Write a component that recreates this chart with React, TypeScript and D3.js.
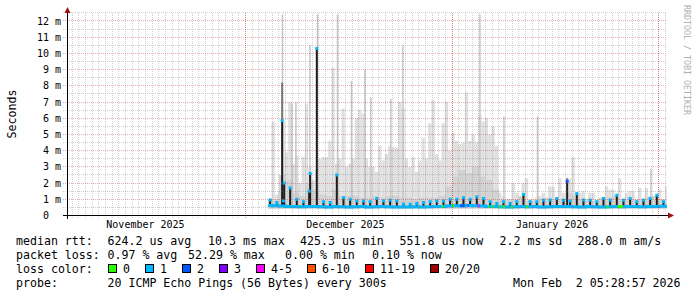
import React from 'react';
import * as d3 from 'd3';

// ---------- time frame ----------
const DAY = 86400000;
const END_TIME = Date.UTC(2026, 1, 2, 5, 28, 57);
const START_TIME = END_TIME - 90 * DAY;
const REF_TIME = Date.UTC(2025, 11, 1); // day offsets below are days after Dec 1 2025

// ---------- axis labels ----------
const yTicks = [0, 1, 2, 3, 4, 5, 6, 7, 8, 9, 10, 11, 12];
const yTickLabels = ['0', '1 m', '2 m', '3 m', '4 m', '5 m', '6 m', '7 m', '8 m', '9 m', '10 m', '11 m', '12 m'];
const monthNames = ['November 2025', 'December 2025', 'January 2026'];
const monthLabelDates = [Date.UTC(2025, 10, 16), Date.UTC(2025, 11, 16), Date.UTC(2026, 0, 16)];
const monthStarts = [Date.UTC(2025, 11, 1), Date.UTC(2026, 0, 1), Date.UTC(2026, 1, 1)];

// ---------- smoke (ms) : half-day samples from day 3.4 ----------
const smokeStartDay = 3.4;
const smokeStepDays = 0.5;
const smokeFloor = 0.42;
const smokeMax = [
  1.0, 5.8, 1.3, 1.5, 5.8, 3.9, 7.0, 3.2, 3.7, 2.0,
  3.6, 6.9, 3.0, 2.2, 2.8, 3.5, 3.6, 3.6, 4.6, 9.1,
  3.2, 3.5, 6.6, 3.0, 3.2, 3.5, 6.0, 6.5, 6.3, 3.5,
  3.0, 3.0, 2.7, 4.3, 3.4, 3.8, 4.3, 4.2, 4.2, 7.0,
  6.6, 3.5, 3.0, 3.6, 2.7, 3.4, 4.8, 3.5, 5.7, 7.1,
  3.8, 3.4, 5.7, 7.0, 4.0, 5.1, 4.6, 4.4, 4.5, 7.6,
  4.6, 5.0, 4.5, 6.2, 5.8, 6.0, 5.0, 5.5, 4.3, 1.4,
  1.2, 1.0, 1.0, 2.0, 1.4, 1.2, 2.0, 2.3, 1.0, 1.0,
  1.1, 1.2, 1.4, 1.0, 1.8, 1.8, 1.0, 2.3, 1.4, 1.0,
  2.3, 3.6, 1.4, 1.4, 1.5, 1.0, 1.4, 1.4, 1.0, 1.0,
  1.0, 1.8, 1.6, 1.6, 1.0, 2.3, 1.0, 1.4, 1.5, 1.5,
  1.0, 1.7, 1.0, 1.7, 1.2, 1.2, 1.2, 1.6, 1.0, 1.8,
];

// ---------- per-day series (day 3 .. day 62) ----------
const dailyStartDay = 3;
const smokeMid = [
  1.0, 1.0, 2.5, 2.2, 1.4, 1.2, 2.0, 1.6, 1.3, 1.2,
  1.6, 1.2, 1.2, 1.2, 1.1, 1.1, 1.2, 1.1, 1.2, 1.2,
  1.1, 1.1, 1.0, 1.1, 1.1, 1.1, 1.2, 1.8, 2.4, 2.8,
  2.6, 3.0, 2.4, 2.2, 1.6, 1.0, 1.0, 1.0, 1.2, 0.9,
  0.9, 1.0, 1.1, 1.0, 1.0, 1.4, 1.2, 1.0, 1.0, 0.9,
  1.1, 1.1, 1.2, 1.0, 1.1, 1.0, 1.0, 1.1, 1.2, 1.0,
];
const medianBase = [
  0.62, 0.60, 0.58, 0.55, 0.55, 0.54, 0.55, 0.56, 0.54, 0.53,
  0.55, 0.54, 0.53, 0.54, 0.55, 0.53, 0.54, 0.55, 0.54, 0.53,
  0.52, 0.53, 0.54, 0.53, 0.54, 0.55, 0.56, 0.58, 0.60, 0.60,
  0.62, 0.60, 0.58, 0.56, 0.55, 0.54, 0.53, 0.54, 0.55, 0.54,
  0.55, 0.53, 0.54, 0.55, 0.56, 0.55, 0.54, 0.53, 0.55, 0.54,
  0.53, 0.54, 0.55, 0.54, 0.56, 0.55, 0.54, 0.55, 0.56, 0.57,
];
const peakHourOffset = 0.7; // daily peak time of day (fraction)
const dailyPeak = [
  0.96, 0.80, 0.90, 1.70, 1.00, 0.85, 2.60, 10.3, 0.85, 0.80,
  2.50, 1.10, 1.00, 0.90, 0.90, 0.85, 1.05, 0.90, 0.95, 0.90,
  0.70, 0.70, 0.75, 0.80, 0.85, 0.90, 0.90, 1.00, 1.00, 1.10,
  1.00, 1.15, 1.05, 0.85, 0.75, 0.85, 0.75, 0.85, 1.30, 0.85,
  0.85, 0.95, 0.95, 1.05, 0.95, 0.90, 1.35, 0.95, 0.95, 0.85,
  1.05, 0.95, 1.25, 0.95, 1.05, 0.85, 0.95, 1.05, 1.25, 0.85,
];

// thin tall smoke strands: [day, ms]
const thinSpikes: [number, number][] = [
  [5.55, 12.4], [6.95, 6.9], [7.57, 7.0], [9.67, 10.5], [10.8, 12.4],
  [13.8, 12.4], [15.9, 8.3], [17.92, 9.0], [18.8, 7.3], [21.8, 7.2],
  [23.62, 10.5], [35.17, 12.4], [38.77, 6.1], [43.8, 6.1], [60.82, 2.9],
];
// other median excursions: [day, median ms, dark haze top ms, loss bucket]
const extraPeaks: [number, number, number, number][] = [
  [5.5, 5.85, 8.2, 1],
  [5.8, 2.0, 2.0, 1],
  [9.55, 1.5, 1.5, 1],
  [48.25, 2.1, 2.3, 2],
];
// loss colour changes of the median: [startDay, endDay, bucket]
const lossSegments: [number, number, number][] = [
  [29.45, 29.65, 0], [31.0, 31.25, 0], [32.2, 32.9, 2], [33.3, 33.5, 2],
  [34.85, 35.1, 4], [36.4, 36.6, 0], [37.0, 37.2, 0], [38.0, 38.2, 0],
  [38.6, 38.9, 0], [39.85, 40.1, 0], [42.1, 42.35, 0], [54.2, 54.45, 0],
  [55.8, 56.6, 0],
];

// ---------- legend ----------
const lossColors = ['#26ff00', '#00b8ff', '#0059ff', '#7e00ff', '#ff00ff', '#ff5500', '#ff0000', '#a10000'];
const lossLabels = ['0', '1', '2', '3', '4-5', '6-10', '11-19', '20/20'];
const rttItems = ['624.2 us avg', '10.3 ms max', '425.3 us min', '551.8 us now', '2.2 ms sd', '288.0 m am/s'];
const lossItems = ['0.97 % avg', '52.29 % max', '0.00 % min', '0.10 % now'];
const probeText = '20 ICMP Echo Pings (56 Bytes) every 300s';
const dateText = 'Mon Feb  2 05:28:57 2026';

// layout
const W = 697;
const H = 297;
const PX0 = 67;
const PX1 = 667;
const PY0 = 215.5;
const PX_PER_MS = 16.21;
const MONO = "'DejaVu Sans Mono', monospace";
const rttX = [107.5, 208, 300, 399.5, 499.5, 577.5];
const lossX = [107.5, 188, 285, 372];
const swatchX = [108.5, 145.5, 182.5, 219.5, 256.5, 307.5, 365.5, 430.5];

export default function App() {
  const x = d3.scaleUtc().domain([START_TIME, END_TIME]).range([PX0, PX1]);
  const y = d3.scaleLinear().domain([0, 12.5]).range([PY0, PY0 - 12.5 * PX_PER_MS]);
  const xd = (d: number) => x(REF_TIME + d * DAY);
  const crisp = (v: number) => Math.round(v - 0.5) + 0.5;
  const top = y(12.5);

  const minorH = d3.range(0.5, 12.6, 1);
  const majorH = yTicks.filter((v) => v > 0);
  const minorV = d3.utcDay.range(new Date(START_TIME), new Date(END_TIME));
  const endDay = (END_TIME - REF_TIME) / DAY;

  const medPts: [number, number][] = medianBase.map((v, i) => [Math.max(smokeStartDay, dailyStartDay + i), v]);
  medPts.push([endDay, medianBase[medianBase.length - 1]]);
  const medLine = d3
    .line<[number, number]>()
    .x((p) => xd(p[0]))
    .y((p) => y(p[1]))
    .curve(d3.curveStepAfter);

  const baseAt = (d: number) => medianBase[Math.min(medianBase.length - 1, Math.max(0, Math.floor(d) - dailyStartDay))];

  return (
    <svg width={W} height={H} style={{ position: 'absolute', left: 0, top: 0, display: 'block', background: '#fff' }}>
      <rect x={0} y={0} width={W} height={H} fill="#ffffff" />
      <defs>
        <clipPath id="plotclip">
          <rect x={PX0} y={top} width={PX1 - PX0} height={PY0 - top} />
        </clipPath>
      </defs>

      <g clipPath="url(#plotclip)">
        {smokeMax.map((v, i) => {
          const d0 = smokeStartDay + i * smokeStepDays;
          const x0 = xd(d0);
          const x1 = Math.min(xd(d0 + smokeStepDays), PX1);
          return <rect key={'s' + i} x={x0} y={y(v)} width={x1 - x0} height={y(smokeFloor) - y(v)} fill="#e0e0e0" />;
        })}
        {smokeMid.map((v, i) => {
          const d0 = Math.max(smokeStartDay, dailyStartDay + i);
          const x0 = xd(d0);
          const x1 = Math.min(xd(dailyStartDay + i + 1), PX1);
          return <rect key={'m' + i} x={x0} y={y(v)} width={x1 - x0} height={y(smokeFloor) - y(v)} fill="#d3d3d3" />;
        })}
        {thinSpikes.map(([d, v], i) => (
          <rect key={'t' + i} x={xd(d) - 0.75} y={y(v)} width={1.5} height={y(smokeFloor) - y(v)} fill="#c6c6c6" />
        ))}
        {extraPeaks.map(([d, m, h], i) => (
          <rect key={'h' + i} x={xd(d) - 1} y={y(h)} width={2} height={y(m) - y(h)} fill="#7a7a7a" />
        ))}
        {dailyPeak.map((v, i) => {
          const d = dailyStartDay + i + peakHourOffset;
          const b = medianBase[i];
          return <rect key={'p' + i} x={xd(d) - 1} y={y(v)} width={2} height={y(b) - y(v)} fill="#1e1e1e" />;
        })}
        {extraPeaks.map(([d, m], i) => (
          <rect key={'e' + i} x={xd(d) - 1} y={y(m)} width={2} height={y(baseAt(d)) - y(m)} fill="#1e1e1e" />
        ))}

        <path d={medLine(medPts) || ''} fill="none" stroke={lossColors[1]} strokeWidth={3} />
        {lossSegments.map(([a, b, k], i) => (
          <line key={'l' + i} x1={xd(a)} x2={xd(b)} y1={y(baseAt(a))} y2={y(baseAt(a))} stroke={lossColors[k]} strokeWidth={3} />
        ))}
        {dailyPeak.map((v, i) => {
          const d = dailyStartDay + i + peakHourOffset;
          return <rect key={'c' + i} x={xd(d) - 1.5} y={y(v) - 1.5} width={3} height={3} fill={lossColors[1]} />;
        })}
        {extraPeaks.map(([d, m, , k], i) => (
          <rect key={'ce' + i} x={xd(d) - 1.5} y={y(m) - 1.5} width={3} height={3} fill={lossColors[k]} />
        ))}
      </g>

      <g strokeDasharray="1,1" strokeWidth={1} shapeRendering="crispEdges">
        {minorH.map((v) => (
          <line key={'mh' + v} x1={63} x2={PX1} y1={crisp(y(v))} y2={crisp(y(v))} stroke="rgba(120,120,120,0.35)" />
        ))}
        {minorV.map((t) => (
          <line key={'mv' + +t} x1={crisp(x(t))} x2={crisp(x(t))} y1={top} y2={PY0 + 2} stroke="rgba(120,120,120,0.35)" />
        ))}
        {majorH.map((v) => (
          <line key={'Mh' + v} x1={63} x2={PX1} y1={crisp(y(v))} y2={crisp(y(v))} stroke="rgba(200,40,40,0.38)" />
        ))}
        {monthStarts.map((t) => (
          <line key={'Mv' + t} x1={crisp(x(t))} x2={crisp(x(t))} y1={top} y2={PY0 + 3} stroke="rgba(200,40,40,0.45)" />
        ))}
      </g>

      <g shapeRendering="crispEdges">
        <line x1={63} x2={669} y1={PY0} y2={PY0} stroke="#000" />
        <line x1={PX0 + 0.5} x2={PX0 + 0.5} y1={12} y2={219} stroke="#000" />
      </g>
      <path d={`M${PX0 - 2.5},13 L${PX0 + 3.5},13 L${PX0 + 0.5},7 Z`} fill="#a01010" />
      <path d={`M668,${PY0 - 3} L668,${PY0 + 3} L674,${PY0} Z`} fill="#a01010" />

      <g fontFamily={MONO} fontSize={10} fill="#000">
        {yTicks.map((v, i) => {
          const lab = yTickLabels[i];
          const w = lab === '0' ? 3 : lab.length;
          return (
            <text key={'yl' + v} x={61 - w * 6.02} y={y(v) + 3.6}>
              {lab}
            </text>
          );
        })}
        {monthNames.map((m, i) => (
          <text key={'mn' + i} x={x(monthLabelDates[i])} y={228.3} textAnchor="middle">
            {m}
          </text>
        ))}
      </g>

      <text transform="translate(16,114) rotate(-90)" textAnchor="middle" fontFamily={MONO} fontSize={11.6} fill="#000">
        Seconds
      </text>

      <text transform="translate(684,5) rotate(90)" fontFamily={MONO} fontSize={8.3} fill="#b0b0b0">
        RRDTOOL / TOBI OETIKER
      </text>

      <g fontFamily={MONO} fontSize={11.6} fill="#000" style={{ whiteSpace: 'pre' }}>
        <text x={16} y={245}>median rtt:</text>
        {rttItems.map((s, i) => (
          <text key={'r' + i} x={rttX[i]} y={245}>{s}</text>
        ))}
        <text x={16} y={259}>packet loss:</text>
        {lossItems.map((s, i) => (
          <text key={'pl' + i} x={lossX[i]} y={259}>{s}</text>
        ))}
        <text x={16} y={273}>loss color:</text>
        {lossLabels.map((s, i) => (
          <g key={'lc' + i}>
            <rect x={swatchX[i]} y={264.5} width={8} height={8} fill={lossColors[i]} stroke="#000" strokeWidth={1} />
            <text x={swatchX[i] + 14.5} y={273}>{s}</text>
          </g>
        ))}
        <text x={16} y={287}>probe:</text>
        <text x={107.5} y={287}>{probeText}</text>
        <text x={513} y={287} style={{ whiteSpace: 'pre' }}>{dateText}</text>
      </g>
    </svg>
  );
}
